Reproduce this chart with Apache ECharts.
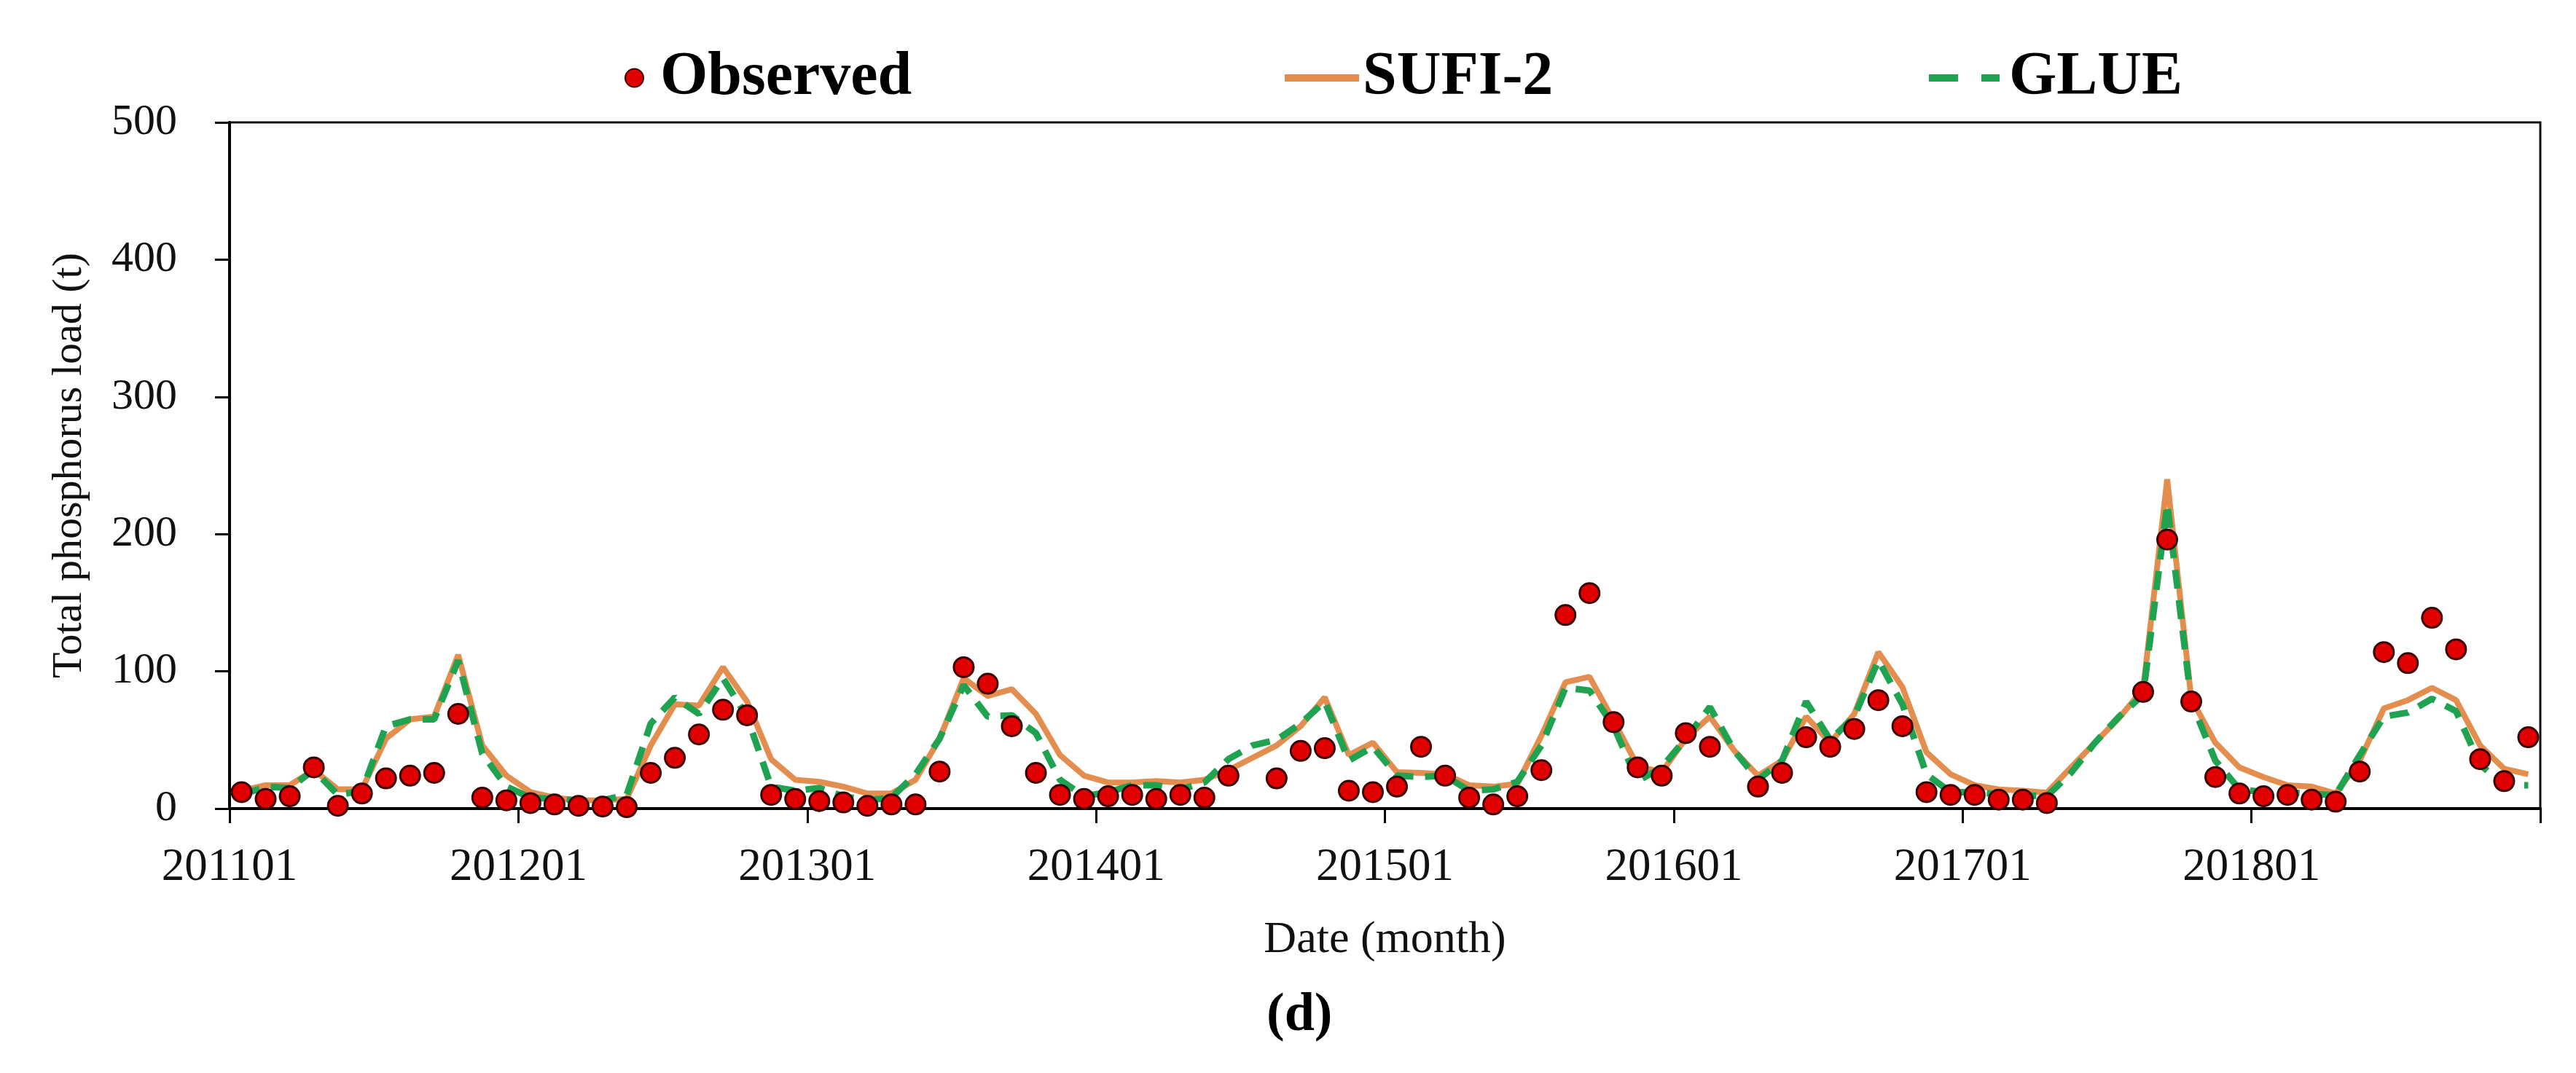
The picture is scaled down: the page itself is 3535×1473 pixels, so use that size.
<!DOCTYPE html>
<html>
<head>
<meta charset="utf-8">
<script src="https://cdn.jsdelivr.net/npm/echarts@6/dist/echarts.min.js"></script>
<style>
html,body{margin:0;padding:0;background:#fff;}
#chart{width:3535px;height:1473px;}
</style>
</head>
<body>
<div id="chart"></div>
<script>
// ---- data (monthly, 2011-01 .. 2018-12) ----
const years = [2011, 2012, 2013, 2014, 2015, 2016, 2017, 2018];
const tickLabels = ['201101', '201201', '201301', '201401', '201501', '201601', '201701', '201801'];

const observed = [
  12, 7, 9, 30, 2, 11, 22, 24, 26, 69, 8, 6,
  4, 3, 2, 1.5, 1, 26, 37, 54, 72, 68, 10, 7,
  5.5, 4.5, 2, 3, 3, 27, 103, 91, 60, 26, 10, 7,
  9, 10, 7, 10, 8, 24, null, 22, 42, 44, 13, 12,
  16, 45, 24, 8, 3, 9, 28, 141, 157, 63, 30, 24,
  55, 45, null, 16, 26, 52, 45, 58, 79, 60, 12, 10,
  10, 6.5, 6.5, 4, null, null, null, 85, 196, 78, 23, 11,
  9, 10, 6.5, 5, 27, 114, 106, 139, 116, 36, 20, 52
];

const sufi2 = [
  13, 17, 17, 28, 14, 14, 51, 65, 67, 112, 46, 24,
  12, 8, 6, 6, 7, 46, 76, 75, 103, 78, 36, 21,
  19.5, 16, 11, 11, 21, 51, 95, 82, 87, 69, 39, 24,
  19, 19, 20, 19, 21, 28, 37, 46, 60, 81, 39, 48,
  26.5, 26, 25, 17, 16, 18, 53, 92, 96, 64, 31, 26.5,
  51, 67, 42.5, 24, 35, 67, 48, 69, 114, 88.5, 41, 25,
  17, 14, 13, 11.5, 30, 48, 66, 87, 240, 80, 48, 30,
  23, 17, 16, 11, 35, 73, 79, 88, 79, 46, 29, 25
];

const glue = [
  10, 16, 15, 28, 10, 13, 60, 65, 65, 108, 40, 16,
  8, 7, 6, 6, 10, 62, 81, 69, 95, 67, 16, 13,
  15, 9, 6, 8, 25, 51, 90, 67, 68, 55, 21, 9,
  12, 17, 17, 14, 19, 36, 46, 50, 62, 78, 35, 45,
  24, 23, 24, 13, 14, 19.5, 46, 88, 86, 60, 20, 30,
  51, 74, 42.5, 21, 35, 78, 50, 67, 108, 76, 25, 12,
  12, 10.5, 9.7, 9, 26, 48, 67, 83, 222, 78, 35, 14,
  12, 12, 10.5, 10, 39, 67, 70, 80, 71, 32, 17, 17
];

const months = [];
years.forEach(y => { for (let m = 1; m <= 12; m++) months.push(String(y) + (m < 10 ? '0' + m : m)); });

const SERIF = '"Liberation Serif", "DejaVu Serif", serif';
const ORANGE = '#E38E4E';
const GREEN = '#1FA350';
const RED = '#E00000';

const chart = echarts.init(document.getElementById('chart'));
chart.setOption({
  backgroundColor: '#fff',
  animation: false,
  grid: {
    left: 315, right: 49, top: 168, bottom: 363,
    show: true, borderColor: '#111', borderWidth: 3, backgroundColor: 'transparent'
  },
  legend: [
    {
      data: [{ name: 'Observed', icon: 'circle' }],
      left: 852, top: 60,
      itemWidth: 25, itemHeight: 25,
      textStyle: { fontFamily: SERIF, fontWeight: 'bold', fontSize: 84, color: '#000', padding: [0, 0, 0, 18] }
    },
    {
      data: [{ name: 'SUFI-2', icon: 'rect' }],
      left: 1758, top: 60,
      itemWidth: 102, itemHeight: 10,
      textStyle: { fontFamily: SERIF, fontWeight: 'bold', fontSize: 84, color: '#000' }
    },
    {
      data: [{ name: 'GLUE', icon: 'path://M0,0 H40 V10 H0 Z M72,0 H97 V10 H72 Z' }],
      left: 2642, top: 60,
      itemWidth: 97, itemHeight: 10,
      textStyle: { fontFamily: SERIF, fontWeight: 'bold', fontSize: 84, color: '#000', padding: [0, 0, 0, 8] }
    }
  ],
  xAxis: [
    {
      type: 'category',
      data: months,
      boundaryGap: true,
      axisLine: { show: true, lineStyle: { color: '#000', width: 4 } },
      axisTick: { show: false },
      axisLabel: { show: false },
      splitLine: { show: false }
    },
    {
      type: 'value',
      min: 0, max: 96, interval: 12,
      position: 'bottom',
      axisLine: { show: false },
      axisTick: { show: true, length: 20, lineStyle: { color: '#000', width: 3 } },
      axisLabel: {
        margin: 50,
        fontFamily: SERIF, fontSize: 63, color: '#111',
        formatter: v => tickLabels[v / 12] || ''
      },
      splitLine: { show: false },
      name: 'Date (month)',
      nameLocation: 'middle',
      nameGap: 150,
      nameTextStyle: { fontFamily: SERIF, fontSize: 62, color: '#111' }
    }
  ],
  yAxis: {
    type: 'value',
    min: 0, max: 500, interval: 100,
    axisLine: { show: true, lineStyle: { color: '#000', width: 4 } },
    axisTick: { show: true, length: 20, lineStyle: { color: '#000', width: 3 } },
    axisLabel: { margin: 72, fontFamily: SERIF, fontSize: 60, color: '#111' },
    splitLine: { show: false },
    name: 'Total phosphorus load (t)',
    nameLocation: 'middle',
    nameRotate: 90,
    nameGap: 190,
    nameTextStyle: { fontFamily: SERIF, fontSize: 58, color: '#111' }
  },
  graphic: [
    {
      type: 'text', left: 1738, top: 1358,
      style: { text: '(d)', font: 'bold 74px ' + SERIF, fill: '#000' }
    }
  ],
  series: [
    {
      name: 'SUFI-2', type: 'line', xAxisIndex: 0, data: sufi2,
      symbol: 'none', connectNulls: true, z: 2,
      lineStyle: { color: ORANGE, width: 8 }, itemStyle: { color: ORANGE }
    },
    {
      name: 'GLUE', type: 'line', xAxisIndex: 0, data: glue,
      symbol: 'none', connectNulls: true, z: 3,
      lineStyle: { color: GREEN, width: 9, type: [26, 16] }, itemStyle: { color: GREEN }
    },
    {
      name: 'Observed', type: 'scatter', xAxisIndex: 0, data: observed,
      symbol: 'circle', symbolSize: 27, z: 5,
      itemStyle: { color: RED, borderColor: '#3a0000', borderWidth: 3, opacity: 1 }
    }
  ]
});
</script>
</body>
</html>
